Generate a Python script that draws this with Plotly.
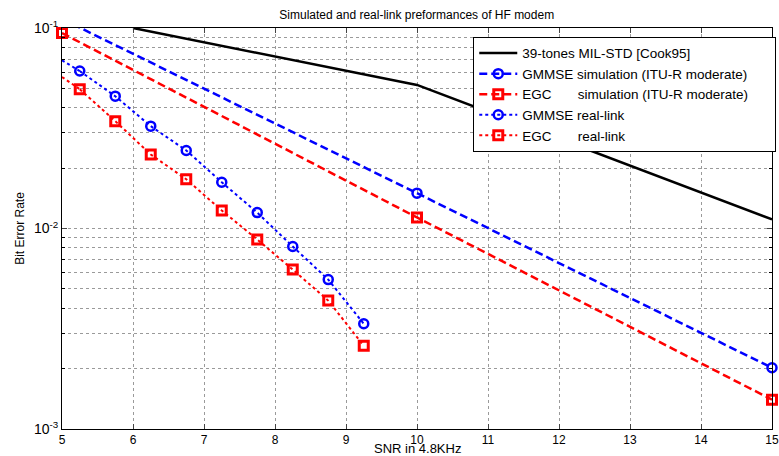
import plotly.graph_objects as go

# ---- data ----
ref_x = [6, 10, 15]
ref_ber = [0.1, 0.052, 0.0111]

sim_x = [5, 10, 15]
gmmse_sim = [0.111, 0.0150, 0.00202]   # first point lies above the axis range
egc_sim = [0.0944, 0.01135, 0.00140]

real_x = [5.25, 5.75, 6.25, 6.75, 7.25, 7.75, 8.25, 8.75, 9.25]
gmmse_real = [0.0610, 0.0457, 0.0324, 0.0245, 0.0170, 0.0120, 0.00813, 0.00556, 0.00335]
egc_real = [0.0495, 0.0343, 0.0234, 0.0176, 0.0123, 0.00881, 0.00624, 0.00437, 0.00260]
# start of the dotted fit lines (no marker)
lead_x = [5.0, 5.25]
gmmse_lead = [0.069, 0.0610]
egc_lead = [0.057, 0.0495]

x_ticks = list(range(5, 16))
y_ticks = [0.001, 0.01, 0.1]
y_ticktext = ["10<sup>-3</sup>", "10<sup>-2</sup>", "10<sup>-1</sup>"]

NB = "\u00a0"
names = [
    "39-tones MIL-STD [Cook95]",
    "GMMSE simulation (ITU-R moderate)" + NB * 6,
    "EGC" + NB * 7 + "simulation (ITU-R moderate)",
    "GMMSE real-link",
    "EGC" + NB * 7 + "real-link",
]

BLUE = "#0000ff"
RED = "#ff0000"
DASH = "8px,4px"

circ = dict(symbol="circle-open", size=9, color=BLUE, line=dict(width=2.5))
sq = dict(symbol="square-open", size=9, color=RED, line=dict(width=3))

fig = go.Figure()
fig.add_trace(go.Scatter(x=ref_x, y=ref_ber, mode="lines", name=names[0],
                         line=dict(color="black", width=2.5)))
# GMMSE simulation: the segment that leaves the top of the axes is drawn as a plain line
fig.add_trace(go.Scatter(x=sim_x[1:], y=gmmse_sim[1:], mode="lines+markers", name=names[1],
                         line=dict(color=BLUE, width=2.5, dash=DASH),
                         marker=circ, cliponaxis=False))
fig.add_trace(go.Scatter(x=sim_x, y=egc_sim, mode="lines+markers", name=names[2],
                         line=dict(color=RED, width=2.5, dash=DASH),
                         marker=sq, cliponaxis=False))
fig.add_trace(go.Scatter(x=real_x, y=gmmse_real, mode="lines+markers", name=names[3],
                         line=dict(color=BLUE, width=2, dash="dot"), marker=circ))
fig.add_trace(go.Scatter(x=real_x, y=egc_real, mode="lines+markers", name=names[4],
                         line=dict(color=RED, width=2, dash="dot"), marker=sq))
fig.add_trace(go.Scatter(x=sim_x[:2], y=gmmse_sim[:2], mode="lines", showlegend=False,
                         line=dict(color=BLUE, width=2.5, dash=DASH)))
fig.add_trace(go.Scatter(x=lead_x, y=gmmse_lead, mode="lines", showlegend=False,
                         line=dict(color=BLUE, width=2, dash="dot")))
fig.add_trace(go.Scatter(x=lead_x, y=egc_lead, mode="lines", showlegend=False,
                         line=dict(color=RED, width=2, dash="dot")))

FONT = "Liberation Sans, Arial, Helvetica, sans-serif"
GRID = "#9a9a9a"

fig.update_layout(
    width=779, height=456,
    margin=dict(l=62, r=7, t=28, b=27, autoexpand=False),
    paper_bgcolor="white", plot_bgcolor="white",
    font=dict(family=FONT, size=12, color="black"),
    title=dict(text="Simulated and real-link preformances of HF modem",
               x=0.535, xanchor="center", y=0.967, yanchor="middle",
               font=dict(size=12, color="black")),
    legend=dict(x=1.006, xanchor="right", y=0.978, yanchor="top",
                bgcolor="white", bordercolor="black", borderwidth=1,
                font=dict(size=13.5), tracegroupgap=0, itemwidth=38,
                traceorder="normal"),
    showlegend=True,
    annotations=[dict(text="SNR in 4.8KHz", xref="paper", yref="paper",
                      x=0.5, y=0, xanchor="center", yanchor="bottom",
                      yshift=-28, showarrow=False, borderpad=0,
                      font=dict(size=13))],
)

fig.update_xaxes(
    range=[5, 15], tickvals=x_ticks, ticks="inside", ticklen=5,
    showline=True, linecolor="black", linewidth=1, mirror="ticks",
    showgrid=True, gridcolor=GRID, griddash="dot", gridwidth=1,
    zeroline=False, tickfont=dict(size=12), automargin=False,
    ticklabeloverflow="allow",
)
fig.update_yaxes(
    type="log", range=[-3, -1], tickvals=y_ticks, ticktext=y_ticktext,
    ticks="inside", ticklen=5,
    showline=True, linecolor="black", linewidth=1, mirror="ticks",
    showgrid=True, gridcolor=GRID, griddash="dot", gridwidth=1,
    zeroline=False, tickfont=dict(size=14), automargin=False,
    ticklabeloverflow="allow",
    minor=dict(dtick="D1", showgrid=True, gridcolor=GRID, griddash="dot",
               gridwidth=1, ticks="inside", ticklen=3, tickcolor="black"),
    title=dict(text="Bit Error Rate", font=dict(size=12), standoff=6),
)

fig.write_html("out.html")
